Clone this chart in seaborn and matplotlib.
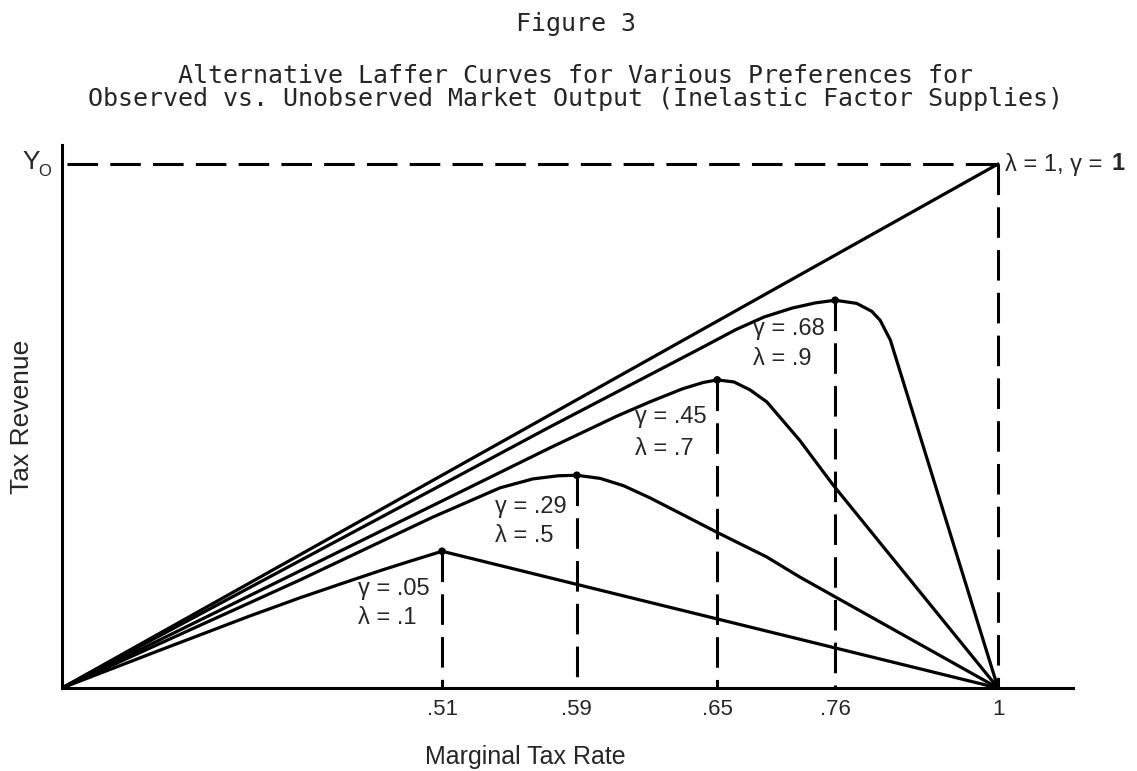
import numpy as np
import pandas as pd
import matplotlib
matplotlib.use("Agg")
import matplotlib.pyplot as plt
import seaborn as sns

# data: curve points (x = drawn tax-rate position, y = revenue as share of Y_O)
curve_names = ["lam_1", "lam_09", "lam_07", "lam_05", "lam_01"]
x_lam_1 = [0.0, 1.0]
y_lam_1 = [0.0, 1.0]
x_lam_09 = [0.0, 0.521, 0.682, 0.72, 0.75, 0.78, 0.805, 0.826, 0.849, 0.865, 0.874, 0.885, 1.0]
y_lam_09 = [0.0, 0.498, 0.648, 0.684, 0.708, 0.725, 0.735, 0.740, 0.734, 0.719, 0.702, 0.664, 0.0]
x_lam_07 = [0.0, 0.521, 0.593, 0.628, 0.663, 0.685, 0.700, 0.718, 0.735, 0.753, 0.788, 0.824, 1.0]
y_lam_07 = [0.0, 0.458, 0.519, 0.546, 0.571, 0.583, 0.588, 0.584, 0.569, 0.546, 0.473, 0.387, 0.0]
x_lam_05 = [0.0, 0.254, 0.396, 0.468, 0.503, 0.530, 0.550, 0.575, 0.600, 0.628, 0.663, 0.701, 0.753, 0.788, 1.0]
y_lam_05 = [0.0, 0.206, 0.326, 0.382, 0.399, 0.405, 0.406, 0.400, 0.386, 0.363, 0.331, 0.296, 0.250, 0.212, 0.0]
x_lam_01 = [0.0, 0.10, 0.20, 0.254, 0.30, 0.34, 0.37, 0.39, 0.406, 1.0]
y_lam_01 = [0.0, 0.069, 0.137, 0.172, 0.200, 0.224, 0.241, 0.252, 0.261, 0.0]

peak_x = [0.406, 0.550, 0.700, 0.826]
peak_y = [0.261, 0.406, 0.588, 0.740]
tick_pos = [0.406, 0.550, 0.700, 0.826, 1.0]
tick_labels = [".51", ".59", ".65", ".76", "1"]
gamma_labels = ["\u03b3 = .05", "\u03b3 = .29", "\u03b3 = .45", "\u03b3 = .68"]
lambda_labels = ["\u03bb = .1", "\u03bb = .5", "\u03bb = .7", "\u03bb = .9"]

# layout of the curve labels (left edge, gamma row, lambda row)
label_x = [0.316, 0.463, 0.612, 0.738]
label_gy = [0.189, 0.345, 0.517, 0.685]
label_ly = [0.134, 0.290, 0.456, 0.628]

xs = [x_lam_1, x_lam_09, x_lam_07, x_lam_05, x_lam_01]
ys = [y_lam_1, y_lam_09, y_lam_07, y_lam_05, y_lam_01]
df = pd.concat([pd.DataFrame({"x": x, "y": y, "curve": n}) for n, x, y in zip(curve_names, xs, ys)],
               ignore_index=True)

sns.set_style("white")
plt.rcParams['font.family'] = ['Liberation Sans', 'DejaVu Sans']

W, H = 1137, 771
fig = plt.figure(figsize=(W / 100, H / 100), dpi=100)
# axes: origin at pixel (62, 688), x=1 at 998 px, Y_O at 164 px
ax = fig.add_axes([62 / W, (H - 688) / H, (1073 - 62) / W, (688 - 145) / H])
ax.set_xlim(0, (1073 - 62) / 936)
ax.set_ylim(0, (688 - 145) / 524)

sns.lineplot(data=df, x="x", y="y", hue="curve", palette=["black"] * 5, legend=False,
             sort=False, estimator=None, linewidth=2.3, ax=ax)
sns.scatterplot(x=peak_x, y=peak_y, color="black", s=30, edgecolor="none", ax=ax, zorder=5)

dash = (0, (10, 4))
for px, py in zip(peak_x, peak_y):
    ax.plot([px, px], [py, 0], color="black", lw=2.2, linestyle=dash)
ax.plot([1, 1], [1, 0], color="black", lw=2.2, linestyle=dash)
ax.plot([0.005, 1], [1, 1], color="black", lw=2.2, linestyle=dash)

for lx, gy, ly, g, l in zip(label_x, label_gy, label_ly, gamma_labels, lambda_labels):
    ax.text(lx, gy, g, fontsize=17, ha="left", va="center")
    ax.text(lx, ly, l, fontsize=17, ha="left", va="center")

sns.despine(ax=ax)
for s in ["left", "bottom"]:
    ax.spines[s].set_linewidth(2.2)
    ax.spines[s].set_color("black")
ax.set_xticks(tick_pos)
ax.set_xticklabels(tick_labels, fontsize=16)
ax.set_yticks([])
ax.tick_params(axis="x", length=0, pad=8)
ax.set_xlabel("")
ax.set_ylabel("")

fig.text(525 / W, 1 - 757 / H, "Marginal Tax Rate", fontsize=18, ha="center", va="center")
fig.text(22 / W, 1 - 417 / H, "Tax Revenue", fontsize=19, rotation=90, ha="center", va="center")
fig.text(22 / W, 1 - 162 / H, "Y", fontsize=19, ha="left", va="center")
fig.text(38 / W, 1 - 172 / H, "O", fontsize=12, ha="left", va="center")

# "λ = 1, γ = 1" with the last 1 in bold
corner = fig.text(1005 / W, 1 - 164 / H, "\u03bb = 1, \u03b3 = ", fontsize=17, ha="left", va="center")
fig.canvas.draw()
bb = corner.get_window_extent()
fig.text(bb.x1 / W + 0.002, 1 - 164 / H, "1", fontsize=17, fontweight="bold", ha="left", va="center")

mono = ["DejaVu Sans Mono"]
fig.text(576 / W, 1 - 24 / H, "Figure 3", fontsize=18, family=mono, ha="center", va="center")
fig.text(576 / W, 1 - 76 / H, "Alternative Laffer Curves for Various Preferences for",
         fontsize=18, family=mono, ha="center", va="center")
fig.text(576 / W, 1 - 99 / H, "Observed vs. Unobserved Market Output (Inelastic Factor Supplies)",
         fontsize=18, family=mono, ha="center", va="center")

fig.savefig("out.png", dpi=100)
